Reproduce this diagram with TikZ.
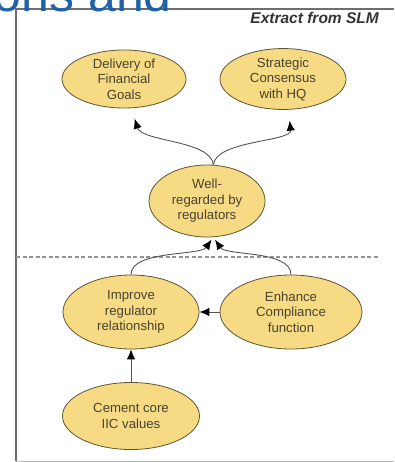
\documentclass[tikz,border=0pt]{standalone}
\usepackage{fontspec}
\setmainfont{Liberation Sans}
\usetikzlibrary{shapes.geometric,arrows.meta}
\definecolor{titleblue}{HTML}{1F62A6}
\definecolor{goalfill}{HTML}{F7DB84}
\definecolor{goaledge}{HTML}{5E5433}
\definecolor{goaltext}{HTML}{48422F}
\definecolor{linkgray}{HTML}{555555}
\definecolor{framegray}{HTML}{6E6E6E}
\begin{document}
\begin{tikzpicture}[x=1pt,y=-1pt,
  goal/.style={ellipse, draw=goaledge, fill=goalfill, line width=0.8pt,
    inner sep=0pt, align=center, text=goaltext,
    font=\fontsize{13.2}{15.5}\selectfont},
  link/.style={draw=linkgray, line width=0.9pt,
    -{Latex[length=10pt,width=8.5pt,color=black]}}]
\useasboundingbox (0,0) rectangle (394,462);

% panel frame
\draw[draw=gray!55, line width=1pt] (16,461) -- (394,461);
\draw[draw=framegray, line width=1.2pt] (16,461) -- (16,9) -- (394,9);

% slide title running behind the panel
\node[anchor=base east, inner sep=0pt, text=titleblue,
  font=\fontsize{50}{50}\selectfont] (slidetitle) at (172,12) {ons and};

% panel caption
\node[anchor=base east, inner sep=0pt, text=black!80,
  font=\fontsize{15.5}{16}\selectfont\bfseries\itshape] (caption) at (379,24)
  {Extract from SLM};

% separator
\draw[draw=gray!85, line width=1.2pt, dash pattern=on 4pt off 2.5pt]
  (16,257) -- (380,257);

% objectives
\node[goal, minimum width=124pt, minimum height=58pt] (deliv) at (124,79)
  {Delivery of\\Financial\\Goals};
\node[goal, minimum width=126pt, minimum height=58pt] (strat) at (283,79)
  {Strategic\\Consensus\\with HQ};
\node[goal, minimum width=116pt, minimum height=72pt] (wr) at (207,201)
  {Well-\\regarded by\\regulators};
\node[goal, minimum width=136pt, minimum height=74pt] (improve) at (131,312)
  {Improve\\regulator\\relationship};
\node[goal, minimum width=142pt, minimum height=74pt] (enhance) at (291,312)
  {Enhance\\Compliance\\function};
\node[goal, minimum width=137pt, minimum height=67pt] (cement) at (131,416)
  {Cement core\\IIC values};

% links
\draw[link, shorten >=11pt] (wr.80) .. controls (211,140) and (142,142) .. (deliv.-76);
\draw[link, shorten >=11pt] (wr.80) .. controls (216,140) and (292,142) .. (strat.-80);
\draw[link, shorten >=3pt] (improve.north) .. controls (131,250) and (200,256) .. (wr.-80);
\draw[link, shorten >=3pt] (enhance.north) .. controls (291,250) and (226,256) .. (wr.-80);
\draw[link] (enhance.west) -- (improve.east);
\draw[link] (cement.north) -- (improve.south);
\end{tikzpicture}
\end{document}
